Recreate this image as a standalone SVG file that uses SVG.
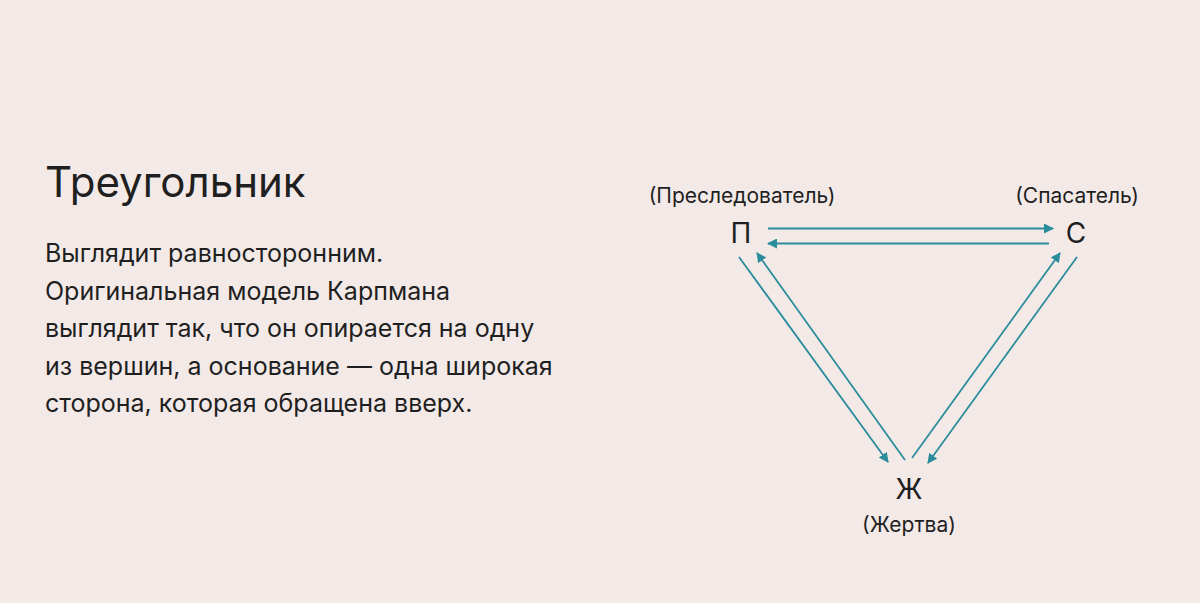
<svg xmlns="http://www.w3.org/2000/svg" width="1200" height="603" viewBox="0 0 1200 603">
<style>
.t{font-family:Inter,"Liberation Sans",sans-serif;fill:#1f1f1f}
.title{font-size:42px}
.body{font-size:25px}
.lbl{font-size:21px;text-anchor:middle}
.node{font-size:28px;text-anchor:middle}
.c{stroke:#2b8c9c;stroke-width:1.8;fill:none}
</style>
<defs>
<marker id="ah" viewBox="0 0 10 10" refX="9" refY="5" markerWidth="10" markerHeight="10" markerUnits="userSpaceOnUse" orient="auto">
<path d="M0,0 L10,5 L0,10 z" fill="#2b8c9c"/>
</marker>
</defs>
<rect width="1200" height="603" fill="#f3eae8"/>
<g id="text">
<text class="t title" x="45" y="197">Треугольник</text>
<text class="t body" x="45" y="262">Выглядит равносторонним.</text>
<text class="t body" x="45" y="299.5">Оригинальная модель Карпмана</text>
<text class="t body" x="45" y="337">выглядит так, что он опирается на одну</text>
<text class="t body" x="45" y="374.5">из вершин, а основание — одна широкая</text>
<text class="t body" x="45" y="412">сторона, которая обращена вверх.</text>
</g>
<g id="node-p">
<text class="t lbl" x="742" y="203">(Преследователь)</text>
<text class="t node" x="741" y="243">П</text>
</g>
<g id="node-s">
<text class="t lbl" x="1077" y="203">(Спасатель)</text>
<text class="t node" x="1076" y="243">С</text>
</g>
<g id="node-zh">
<text class="t node" x="909" y="499">Ж</text>
<text class="t lbl" x="909" y="532">(Жертва)</text>
</g>
<g id="connectors">
<line class="c" x1="768" y1="228.5" x2="1053" y2="228.5" marker-end="url(#ah)"/>
<line class="c" x1="1049" y1="243.5" x2="768" y2="243.5" marker-end="url(#ah)"/>
<line class="c" x1="739" y1="257" x2="888" y2="462" marker-end="url(#ah)"/>
<line class="c" x1="905" y1="460" x2="757" y2="253" marker-end="url(#ah)"/>
<line class="c" x1="912" y1="458" x2="1060" y2="253" marker-end="url(#ah)"/>
<line class="c" x1="1077" y1="257" x2="928" y2="463" marker-end="url(#ah)"/>
</g>
</svg>
